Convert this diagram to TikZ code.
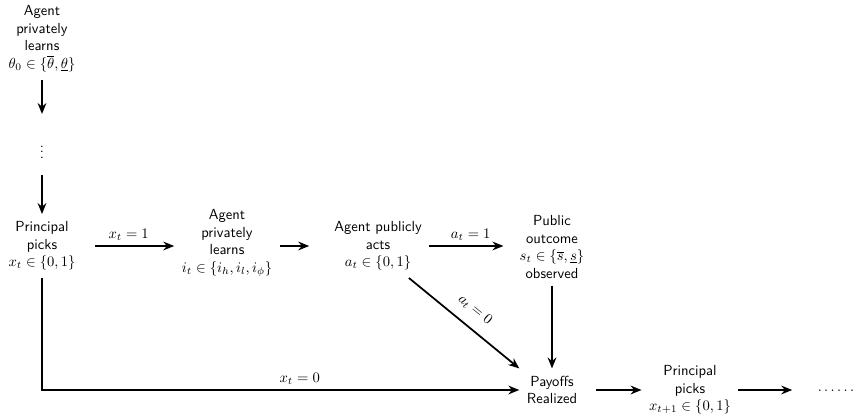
\documentclass[tikz,border=0pt]{standalone}
\usetikzlibrary{arrows.meta}

\begin{document}
\begin{tikzpicture}[x=0.0241cm,y=-0.0241cm,font=\sffamily,
	stage/.style={align=center,inner sep=5pt},
	flow/.style={very thick,-{Stealth[length=7.5pt,width=6pt]}}]
					\useasboundingbox (0,0) rectangle (856,414);
					% first period
					\node[stage] (learn0) at (42,39) {Agent\\privately\\learns\\$\theta_0 \in \{\overline{\theta},\underline{\theta}\}$};
					\node (dots) at (42,148) {$\vdots$};
					\coordinate (dotsin) at (42,114);
					\coordinate (dotsout) at (42,175);
					\draw[flow] (learn0) -- (dotsin);
					
					% period t
					\node[stage] (pick) at (42,246) {Principal\\picks\\$x_t \in \{0,1\}$};
					\node[stage] (learn) at (227,243) {Agent\\privately\\learns\\$i_t \in \{i_h,i_l,i_\phi\}$};
					\node[stage] (acts) at (378,246) {Agent publicly\\acts\\$a_t \in \{0,1\}$};
					\node[stage] (outcome) at (552,247) {Public\\outcome\\$s_t \in \{\overline{s},\underline{s}\}$\\observed};
					\node[stage] (pay) at (552,390) {Payoffs\\Realized};
					\node[stage] (next) at (690,390) {Principal\\picks\\$x_{t+1} \in \{0,1\}$};
					\node (more) at (836,391) {$\ldots\ldots$};
					
					\draw[flow] (dotsout) -- (pick);
					\draw[flow,shorten <=8pt] (pick.east) -- (pick.east -| learn.west) node[midway,above] {$x_t = 1$};
					\draw[flow,shorten >=12pt] (learn.east |- acts.east) -- (acts.west);
					\draw[flow,shorten >=6pt] (acts.east) -- (acts.east -| outcome.west) node[midway,above] {$a_t = 1$};
					\draw[flow] ([xshift=-14pt]acts.south east) -- (pay.north west) node[midway,above=4pt,sloped] {$a_t = 0$};
					\draw[flow] (outcome) -- (pay);
					\draw[flow] (pick) |- (pay) node[pos=0.77,above] {$x_t = 0$};
					\draw[flow,shorten <=8pt] (pay) -- (next);
					\draw[flow,shorten >=14pt] (next.east) -- (next.east -| more.west);
				\end{tikzpicture}
\end{document}
